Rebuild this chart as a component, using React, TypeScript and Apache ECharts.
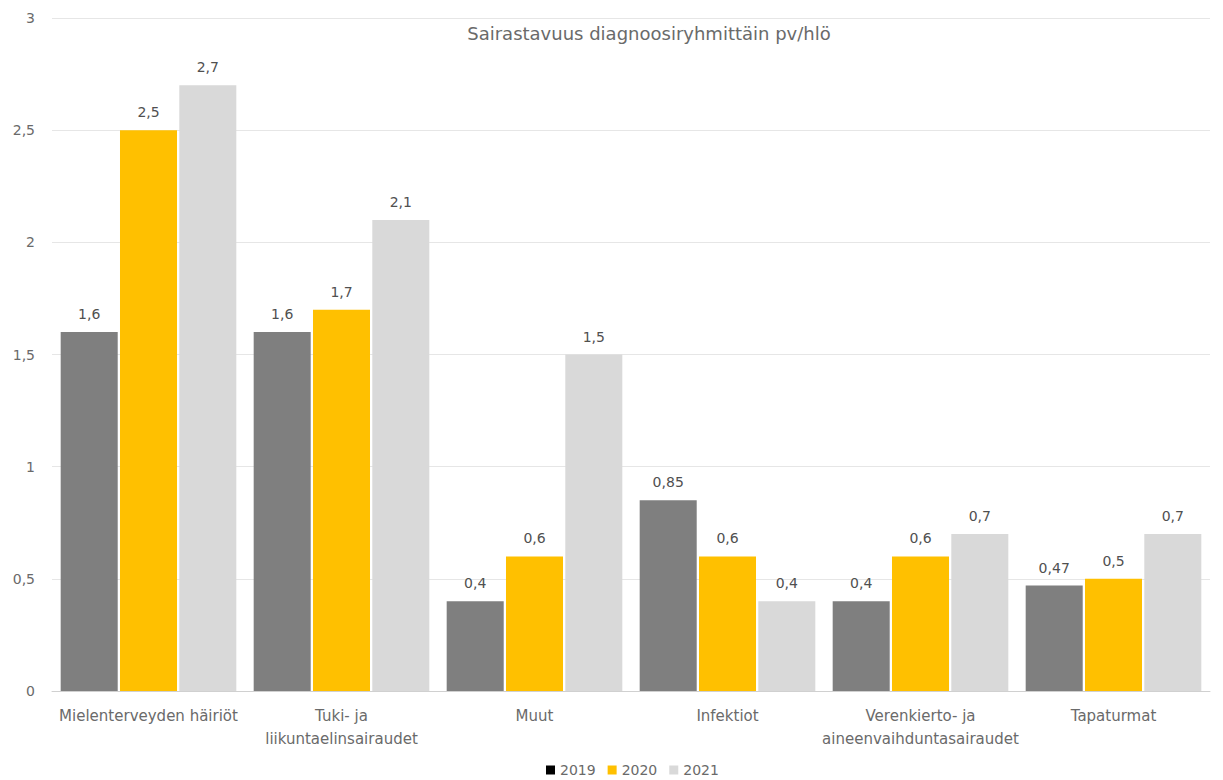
import React, { useEffect, useRef } from "react";
import * as echarts from "echarts";

const categories = [
  "Mielenterveyden häiriöt",
  "Tuki- ja\nliikuntaelinsairaudet",
  "Muut",
  "Infektiot",
  "Verenkierto- ja\naineenvaihduntasairaudet",
  "Tapaturmat",
];
const seriesNames = ["2019", "2020", "2021"];
const values2019 = [1.6, 1.6, 0.4, 0.85, 0.4, 0.47];
const values2020 = [2.5, 1.7, 0.6, 0.6, 0.6, 0.5];
const values2021 = [2.7, 2.1, 1.5, 0.4, 0.7, 0.7];
const barColors = ["#7f7f7f", "#ffc000", "#d9d9d9"];
const legendColors = ["#000000", "#ffc000", "#d9d9d9"];
const titleText = "Sairastavuus diagnoosiryhmittäin pv/hlö";

const fmt = (v: number) => String(v).replace(".", ",");

export default function App() {
  const ref = useRef<HTMLDivElement>(null);
  useEffect(() => {
    if (!ref.current) return;
    const chart = echarts.init(ref.current, null, { renderer: "svg" });
    const font = "'DejaVu Sans', sans-serif";
    const allValues = [values2019, values2020, values2021];
    chart.setOption({
      animation: false,
      textStyle: { fontFamily: font },
      title: {
        text: titleText,
        left: 644,
        top: 19,
        textAlign: "center",
        textStyle: { fontSize: 18, fontWeight: "normal", color: "#6a6a6a", fontFamily: font },
      },
      legend: {
        top: 763,
        left: 546,
        itemWidth: 9,
        itemHeight: 9,
        itemGap: 12,
        icon: "rect",
        padding: 0,
        textStyle: { fontSize: 14, color: "#6a6a6a", fontFamily: font },
        data: seriesNames.map((n, i) => ({ name: n, itemStyle: { color: legendColors[i] } })),
      },
      grid: { left: 52, right: 13, top: 18, bottom: 89, containLabel: false },
      xAxis: {
        type: "category",
        data: categories,
        axisTick: { show: false },
        axisLine: { lineStyle: { color: "#d0d0d0" } },
        axisLabel: {
          interval: 0,
          margin: 13,
          fontSize: 15,
          lineHeight: 23,
          color: "#6a6a6a",
          fontFamily: font,
        },
      },
      yAxis: {
        type: "value",
        min: 0,
        max: 3,
        interval: 0.5,
        axisLine: { show: false },
        axisTick: { show: false },
        splitLine: { lineStyle: { color: "#e6e6e6" } },
        axisLabel: {
          margin: 17,
          fontSize: 14,
          color: "#6a6a6a",
          fontFamily: font,
          formatter: (v: number) => fmt(v),
        },
      },
      series: seriesNames.map((n, i) => ({
        name: n,
        type: "bar",
        data: allValues[i],
        barCategoryGap: "9%",
        barGap: "4%",
        itemStyle: { color: barColors[i] },
        label: {
          show: true,
          position: "top",
          distance: 11,
          fontSize: 14,
          color: "#505050",
          fontFamily: font,
          formatter: (p: any) => fmt(p.value),
        },
      })),
    });
    return () => chart.dispose();
  }, []);
  return <div ref={ref} style={{ width: 1223, height: 780, position: "absolute", left: 0, top: 0, background: "#fff" }} />;
}
